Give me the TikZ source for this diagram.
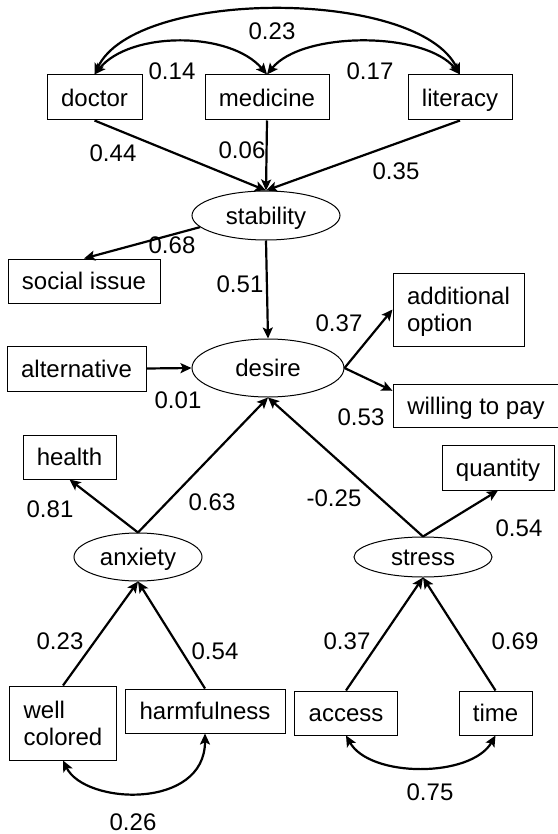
\documentclass[tikz,border=0pt]{standalone}
\usepackage{fontspec}
\setmainfont{Liberation Sans}
\usetikzlibrary{arrows.meta,shapes.geometric}
\begin{document}
\begin{tikzpicture}[x=0.5pt,y=-0.5pt,
  font=\fontsize{12pt}{13.5pt}\selectfont,
  box/.style={draw,line width=0.5pt,inner sep=0pt,minimum height=22.5pt,text height=8.6pt,text depth=0pt},
  mbox/.style={draw,line width=0.5pt,inner sep=0pt,align=left,text depth=0pt},
  lat/.style={draw,ellipse,line width=0.5pt,inner sep=0pt,text height=8.6pt,text depth=0pt},
  lab/.style={inner sep=0pt},
  arr/.style={line width=1.1pt,-{Stealth[length=5.5pt,width=5pt,inset=1.2pt]}},
  darr/.style={line width=1.1pt,{Stealth[length=5.5pt,width=5pt,inset=1.2pt]}-{Stealth[length=5.5pt,width=5pt,inset=1.2pt]}}
]
\useasboundingbox (0,0) rectangle (557,834);
% boxes
\node[box,minimum width=47.5pt] (doctor) at (94.5,97.5) {doctor};
\node[box,minimum width=62pt] (medicine) at (267,97.5) {medicine};
\node[box,minimum width=52pt] (literacy) at (460,97.5) {literacy};
\node[box,minimum width=76pt,minimum height=22pt] (social) at (84,281) {social issue};
\node[box,minimum width=69.5pt] (alt) at (76.5,368.5) {alternative};
\node[mbox,minimum width=65.5pt,minimum height=36.5pt] (addopt) at (458.5,309.5) {additional\\option};
\node[box,minimum width=83pt,minimum height=21.5pt] (willing) at (476,405.5) {willing to pay};
\node[box,minimum width=46.5pt,minimum height=22pt] (health) at (69.5,457) {health};
\node[box,minimum width=56pt] (quantity) at (498,467.5) {quantity};
\node[mbox,minimum width=53.5pt,minimum height=37pt] (well) at (63,723) {well\\colored};
\node[box,minimum width=80pt,minimum height=22pt] (harm) at (205,711) {harmfulness};
\node[box,minimum width=51.5pt,minimum height=22pt] (access) at (346,713) {access};
\node[box,minimum width=36.5pt,minimum height=22pt] (time) at (495.5,713) {time};
% latent variables
\node[lat,minimum width=74pt,minimum height=24.5pt] (stability) at (266,215.5) {stability};
\node[lat,minimum width=76pt,minimum height=29pt] (desire) at (268,368) {desire};
\node[lat,minimum width=64pt,minimum height=24pt] (anxiety) at (138,557) {anxiety};
\node[lat,minimum width=69pt,minimum height=20pt] (stress) at (423,557) {stress};
% paths
\draw[arr] (doctor.south) -- (stability.north);
\draw[arr] (medicine.south) -- (stability.north);
\draw[arr] (literacy.south) -- (stability.north);
\draw[arr] (stability.190) -- (social.north);
\draw[arr] (stability.south) -- (desire.north);
\draw[arr] (alt.east) -- (desire.west);
\draw[arr] (desire.east) -- (addopt.west);
\draw[arr] (desire.east) -- (willing.170);
\draw[arr] (anxiety.north) -- (health.south);
\draw[arr] (anxiety.north) -- (desire.south);
\draw[arr] (stress.north) -- (desire.south);
\draw[arr] (stress.north) -- (quantity.south);
\draw[arr] (well.north) -- (anxiety.south);
\draw[arr] (harm.north) -- (anxiety.south);
\draw[arr] (access.north) -- (stress.south);
\draw[arr] (time.north) -- (stress.south);
% covariances
\draw[darr] (doctor.north) .. controls (135,-12) and (418,-12) .. (literacy.north);
\draw[darr] (doctor.north) .. controls (130,31) and (230,31) .. (medicine.north);
\draw[darr] (medicine.north) .. controls (302,31) and (425,31) .. (literacy.north);
\draw[darr] (well.south) .. controls (85,805) and (205,810) .. (harm.south);
\draw[darr] (access.south) .. controls (370,778) and (471,778) .. (time.south);
% labels
\node[lab] (l1) at (272,31) {0.23};
\node[lab] (l2) at (172,71) {0.14};
\node[lab] (l3) at (370,71) {0.17};
\node[lab] (l4) at (113,153) {0.44};
\node[lab] (l5) at (242,150) {0.06};
\node[lab] (l6) at (396,171) {0.35};
\node[lab] (l7) at (172,245) {0.68};
\node[lab] (l8) at (240,284) {0.51};
\node[lab] (l9) at (339,323) {0.37};
\node[lab] (l10) at (178,400) {0.01};
\node[lab] (l11) at (361,417) {0.53};
\node[lab] (l12) at (50,509) {0.81};
\node[lab] (l13) at (212,502) {0.63};
\node[lab] (l14) at (334,498) {-0.25};
\node[lab] (l15) at (519,528) {0.54};
\node[lab] (l16) at (60,641) {0.23};
\node[lab] (l17) at (215,651) {0.54};
\node[lab] (l18) at (347,641) {0.37};
\node[lab] (l19) at (515,641) {0.69};
\node[lab] (l20) at (133,822) {0.26};
\node[lab] (l21) at (430,792) {0.75};
\end{tikzpicture}
\end{document}
